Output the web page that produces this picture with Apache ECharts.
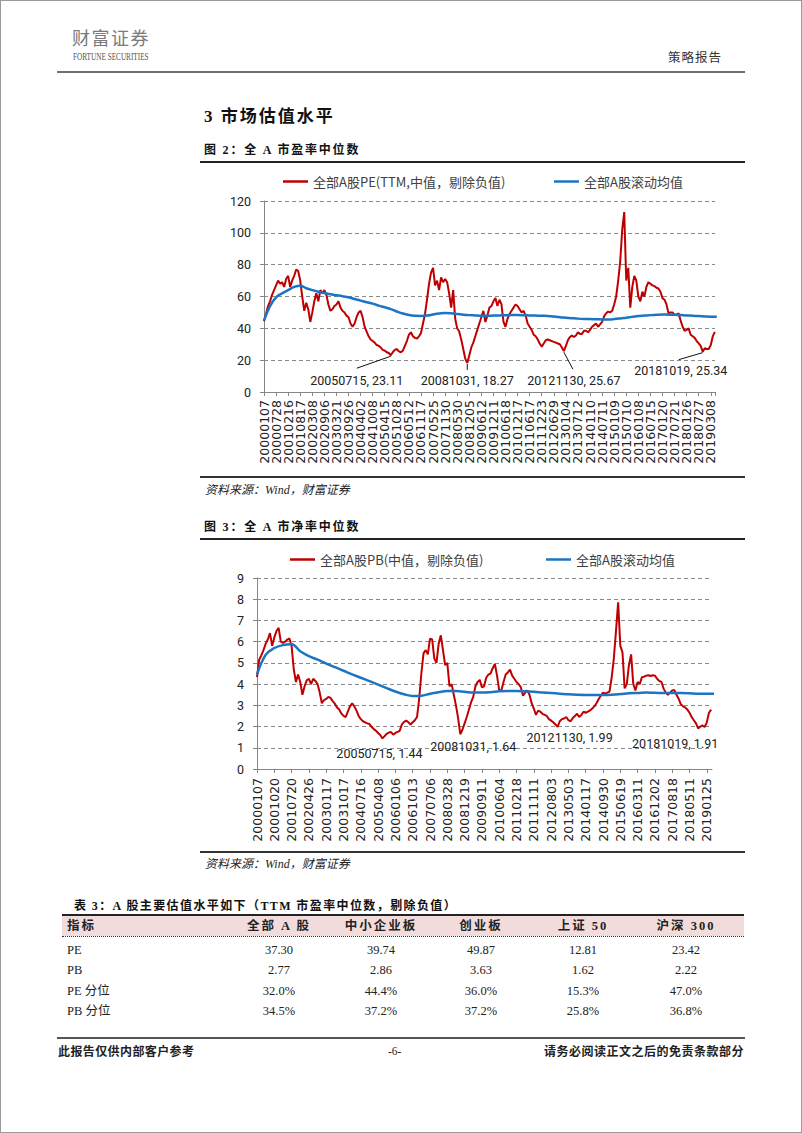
<!DOCTYPE html>
<html><head><meta charset="utf-8">
<script src="https://cdn.jsdelivr.net/npm/echarts@6/dist/echarts.min.js"></script>
<style>
html,body{margin:0;padding:0;background:#fff;}
#page{position:relative;width:802px;height:1133px;overflow:hidden;background:#fff;}
#frame{position:absolute;left:0;top:0;width:802px;height:1133px;box-sizing:border-box;border:1px solid #9a9a9a;z-index:3;pointer-events:none;}
#chart{position:absolute;left:0;top:0;width:802px;height:1133px;z-index:1;}
.t{position:absolute;white-space:nowrap;line-height:1;z-index:2;font-family:"Liberation Serif","Noto Sans CJK SC",serif;color:#222;}
.r{position:absolute;z-index:2;}
</style></head>
<body><div id="page">
<div id="chart"></div>
<div id="frame"></div>
<div id="html"></div>
</div>
<script>
// ---------------- data ----------------
const PE_NAME = '全部A股PE(TTM,中值，剔除负值)';
const PB_NAME = '全部A股PB(中值，剔除负值)';
const MEAN_NAME = '全部A股滚动均值';

const peTickLabels = ['20000107','20000728','20010216','20010817','20020308','20020906','20030321','20030926','20040402','20041008','20050415','20051028','20060512','20061117','20070525','20071130','20080530','20081205','20090612','20091211','20100618','20101217','20110617','20111223','20120629','20130104','20130712','20140110','20140711','20150109','20150710','20160108','20160715','20170120','20170721','20180126','20180727','20190308'];
const pbTickLabels = ['20000107','20001020','20010720','20020426','20030117','20031017','20040716','20050408','20060106','20061013','20070706','20080328','20081219','20090911','20100604','20110218','20111111','20120803','20130503','20140117','20140930','20150619','20160311','20161202','20170818','20180511','20190125'];

// samples per tick-label interval
const PE_PER_TICK = 6;
const PB_PER_TICK = 8;
const MEAN_PER_TICK = 2;

const pe = [
44.5,49,54,57,61,64, 67,70,68,69,66,71, 73,66,70,73,77,76, 70,60,51,56,52,44,
50,57,62,57,64,62, 64,61,55,51,52,54, 55,57,53,51,50,48, 47,43,41,43,47,50,
51,47,41,38,35,33, 32,31,29.5,29,28,26.5, 26,25,24.5,23.11,25,26.5, 27,25.5,25,26,29,32,
36,37.5,35,34,33.5,35, 37,43,49,58,68,75, 78,67,70,64,72,69, 71,69,62,53,64,46,
40,38,33,27,21,18.27, 23,28,31,35,39,43, 47,51,44,48,53,54, 57,59,54,58,55,44,
41,46,49,51,53,55, 54,52,50,51,48,43, 41,39,36,35,33,30.5, 28.5,30.5,32.5,33,32.5,32,
31.5,31,30.5,30,28,25.67, 29,32.5,34.5,35.5,34.5,35.5, 37.5,36.5,36.5,38.5,38.5,37.5, 39,41,42,43,41,42.5,
44,47.5,49.5,50.5,50,51, 55,60,70,82,102,113, 70,78,53,66,73,70, 60,57,63,60,66,69,
68,67,66.5,65.5,65,63, 59,58,55,49.5,50,50, 48.5,48.5,49.4,45,41,38.5, 39,40,36,35,34,32,
30.5,29,25.34,27.5,27,27, 29.5,35,37.8
];
const peMean = [
45,54,59.5,62,64,66,66.8,65.2,64,63, 62.2,61.4,60.8,60.2,59.5,58.4,57.4,56.4,55.5,54.3,
53.2,52.1,50.6,49.3,48.4,47.9,47.8,48,48.7,49.3, 49.7,49.5,49,48.6,48.3,48.1,47.9,47.9,48,48.1,
48.2,48.3,48.3,48.2,48.1,48,47.9,47.8,47.4,47, 46.7,46.4,46.1,45.9,45.8,45.7,45.6,45.6,45.8,46.2,
46.7,47.2,47.7,48,48.3,48.5,48.7,48.6,48.5,48.3, 48.1,47.9,47.7,47.5,47.3,47.2
];
const pb = [
4.33,5.15,5.35,5.6,5.9,6.1,6.4,5.8, 6.2,6.5,6.65,6.0,5.95,6.0,6.1,6.15,
5.8,4.7,4.1,4.45,4.1,3.5,3.9,4.18, 4.25,4.0,4.25,4.15,4.0,3.6,3.1,3.25,
3.3,3.4,3.35,3.2,3.08,2.9,2.8,2.62, 2.5,2.45,2.7,2.95,3.1,2.95,2.75,2.5,
2.35,2.25,2.2,2.15,2.12,1.99,1.88,1.8, 1.7,1.6,1.44,1.55,1.66,1.72,1.74,1.62,
1.7,1.75,1.8,2.1,2.22,2.28,2.2,2.1, 2.2,2.3,2.45,3.3,4.5,5.45,5.6,5.4,
6.14,6.1,5.2,5.0,5.9,6.3,5.6,4.9, 5.0,3.9,4.0,3.5,3.0,2.4,1.64,1.85,
2.15,2.45,2.8,3.15,3.4,3.9,4.1,4.2, 3.85,3.9,4.3,4.45,4.5,4.75,4.95,4.4,
3.7,3.7,4.1,4.45,4.55,4.68,4.4,4.25, 4.1,4.0,3.85,3.45,3.6,3.7,3.5,3.1,
2.85,2.55,2.75,2.7,2.6,2.55,2.5,2.35, 2.28,2.2,2.1,1.99,2.25,2.35,2.38,2.45,
2.3,2.25,2.4,2.5,2.6,2.45,2.55,2.7, 2.65,2.7,2.76,2.85,2.95,3.1,3.3,3.45,
3.6,3.55,3.6,3.65,4.3,5.2,6.5,7.85, 5.8,5.5,3.8,4.0,4.9,5.4,4.0,3.7,
4.1,4.0,4.33,4.35,4.4,4.42,4.38,4.42, 4.4,4.25,4.15,4.1,3.8,3.6,3.5,3.6,
3.7,3.72,3.5,3.3,3.05,2.95,2.9,2.8, 2.65,2.45,2.3,2.15,1.91,2.0,2.05,1.98,
2.2,2.65,2.8
];
const pbMean = [
4.45,5.38,5.7,5.84,5.88,5.55,5.32,5.15,4.97,4.8, 4.63,4.46,4.3,4.14,3.98,3.81,3.65,3.52,3.44,3.45,
3.55,3.62,3.67,3.67,3.64,3.6,3.6,3.62,3.66,3.67, 3.67,3.66,3.64,3.61,3.58,3.55,3.52,3.5,3.49,3.49,
3.49,3.5,3.53,3.57,3.58,3.6,3.59,3.58,3.58,3.58, 3.57,3.55,3.55,3.55
];

// annotated lows (sample index in the series, date, value)
const peNoteIndex = [63, 101, 149, 218];
const peNoteDates = ['20050715','20081031','20121130','20181019'];
const peNoteValues = [23.11, 18.27, 25.67, 25.34];
const pbNoteIndex = [58, 94, 139, 204];
const pbNoteDates = ['20050715','20081031','20121130','20181019'];
const pbNoteValues = [1.44, 1.64, 1.99, 1.91];

// table
const tableHeader = ['指标','全部 A 股','中小企业板','创业板','上证 50','沪深 300'];
const rowLabels = ['PE','PB','PE 分位','PB 分位'];
const rowPE = ['37.30','39.74','49.87','12.81','23.42'];
const rowPB = ['2.77','2.86','3.63','1.62','2.22'];
const rowPEPct = ['32.0%','44.4%','36.0%','15.3%','47.0%'];
const rowPBPct = ['34.5%','37.2%','37.2%','25.8%','36.8%'];

// ---------------- layout (page text) ----------------
const html = [];
function T(txt, x, y, size, extra){ html.push(`<div class="t" style="left:${x}px;top:${y}px;font-size:${size}px;${extra||''}">${txt}</div>`); }
function R(x, y, w, h, css){ html.push(`<div class="r" style="left:${x}px;top:${y}px;width:${w}px;height:${h}px;${css}"></div>`); }

T('财富证券', 72, 30, 18, 'color:#7a7a7a;letter-spacing:1.5px;font-family:\"Noto Sans CJK SC\";font-weight:300;');
T('FORTUNE SECURITIES', 73, 53, 9.5, 'color:#555;transform:scaleX(0.76);transform-origin:0 0;');
T('策略报告', 668, 52, 12.5, 'color:#333;letter-spacing:1px;font-family:\"Noto Sans CJK SC\";');
R(57, 71, 688, 2, 'background:#707070;');

T('3 市场估值水平', 204, 108, 17, 'font-weight:bold;letter-spacing:2px;color:#111;');
T('图 2：全 A 市盈率中位数', 204, 144, 12, 'font-weight:bold;letter-spacing:1.8px;color:#111;');
R(200, 161, 545, 1.5, 'background:#222;');
R(200, 476, 545, 1.5, 'background:#333;');
T('资料来源：Wind，财富证券', 205, 484, 12, 'font-style:italic;color:#222;');

T('图 3：全 A 市净率中位数', 204, 521, 12, 'font-weight:bold;letter-spacing:1.8px;color:#111;');
R(200, 538, 545, 1.5, 'background:#222;');
R(200, 851, 545, 1.5, 'background:#333;');
T('资料来源：Wind，财富证券', 205, 858, 12, 'font-style:italic;color:#222;');

T('表 3：A 股主要估值水平如下（TTM 市盈率中位数，剔除负值）', 74, 900, 12, 'font-weight:bold;letter-spacing:1.4px;color:#111;');
R(62, 914, 682, 2, 'background:#222;');
R(62, 916, 682, 20, 'background:#F2DCDB;');
R(62, 936, 682, 0, 'border-top:1.5px dotted #333;');
const colX = [279, 381, 481, 583, 686];
T(tableHeader[0], 67, 920, 12.5, 'font-weight:bold;letter-spacing:2px;');
for (let j = 0; j < 5; j++) T(tableHeader[j+1], colX[j], 920, 12.5, 'font-weight:bold;letter-spacing:2px;transform:translateX(-50%);');
const rows = [rowPE, rowPB, rowPEPct, rowPBPct];
const rowY = [944, 964, 985, 1005];
rows.forEach((row, i) => {
  T(rowLabels[i], 67, rowY[i], 12.5, '');
  row.forEach((v, j) => T(v, colX[j], rowY[i], 12.5, 'transform:translateX(-50%);'));
});

R(57, 1037, 688, 2, 'background:#555;');
T('此报告仅供内部客户参考', 58, 1046, 12, 'font-weight:bold;letter-spacing:0.4px;');
T('-6-', 388, 1046, 11.5, '');
T('请务必阅读正文之后的免责条款部分', 544, 1046, 12, 'font-weight:bold;letter-spacing:0.5px;');
document.getElementById('html').innerHTML = html.join('');

// ---------------- charts ----------------
const RED = '#C00000', BLUE = '#1B75C3';
const chart = echarts.init(document.getElementById('chart'), null, {renderer: 'svg', width: 802, height: 1133});

const PE_MAX = 37.35, PB_MAX = 26.3;
const G0 = {left: 264, top: 201, width: 451, height: 191};
const G1 = {left: 257, top: 578, width: 455, height: 191};
const xLabelStyle = {rotate: 90, fontFamily: 'DejaVu Sans', fontSize: 12.5, color: '#222'};

function xAxisFor(grid, max, labels, margin, showLabels) {
  return {
    type: 'value', gridIndex: grid, min: 0, max: max, interval: 1,
    axisLine: {show: true, lineStyle: {color: '#868686', width: 1}},
    axisTick: {show: true, length: 4, lineStyle: {color: '#868686'}},
    splitLine: {show: false},
    axisLabel: Object.assign({
      show: showLabels, margin: margin, showMinLabel: true, showMaxLabel: false,
      formatter: v => { const i = Math.round(v); return Math.abs(v - i) < 1e-6 ? (labels[i] || '') : ''; }
    }, xLabelStyle)
  };
}
function yAxisFor(grid, max, interval) {
  return {
    type: 'value', gridIndex: grid, min: 0, max: max, interval: interval,
    axisLine: {show: true, lineStyle: {color: '#868686', width: 1}},
    axisTick: {show: true, length: 4, lineStyle: {color: '#868686'}},
    axisLabel: {margin: 13, fontFamily: 'Roboto', fontSize: 12.5, color: '#222'},
    splitLine: {show: true, lineStyle: {type: [4, 3], color: '#8a8a8a', width: 1}}
  };
}
const legendCommon = {
  icon: 'rect', itemWidth: 25, itemHeight: 2.5, itemGap: 0, padding: 0, selectedMode: false,
  textStyle: {fontFamily: 'Noto Sans CJK SC', fontSize: 13, color: '#404040'}
};
function lineSeries(name, values, perTick, xi, color, width, smooth, z) {
  return {
    type: 'line', name: name, xAxisIndex: xi, yAxisIndex: xi,
    data: values.map((v, i) => [i / perTick, v]),
    showSymbol: false, symbol: 'none', smooth: smooth, z: z,
    lineStyle: {color: color, width: width}, itemStyle: {color: color},
    animation: false
  };
}

// label grid for chart 1: spans tick 0 .. last tick, same scale as grid 0
const G0labels = {left: G0.left, top: G0.top, height: G0.height, width: G0.width * (peTickLabels.length - 1) / PE_MAX};

chart.setOption({
  animation: false,
  grid: [G0, G1, G0labels],
  xAxis: [
    xAxisFor(0, PE_MAX, peTickLabels, 8, false),
    xAxisFor(1, PB_MAX, pbTickLabels, 9, true),
    {type: 'category', gridIndex: 2, data: peTickLabels, boundaryGap: false,
     axisLine: {show: false}, axisTick: {show: false}, splitLine: {show: false},
     axisLabel: Object.assign({interval: 0, margin: 8}, xLabelStyle)}
  ],
  yAxis: [yAxisFor(0, 120, 20), yAxisFor(1, 9, 1), {type: 'value', gridIndex: 2, show: false, min: 0, max: 120}],
  legend: [
    Object.assign({data: [PE_NAME], left: 283, top: 175}, legendCommon),
    Object.assign({data: [MEAN_NAME], left: 554, top: 175}, legendCommon),
    Object.assign({data: [PB_NAME], left: 290, top: 553}, legendCommon),
    Object.assign({data: [MEAN_NAME], left: 546, top: 553}, legendCommon)
  ],
  series: [
    lineSeries(PE_NAME, pe, PE_PER_TICK, 0, RED, 2, false, 2),
    lineSeries(MEAN_NAME, peMean, MEAN_PER_TICK, 0, BLUE, 2.5, 0.4, 3),
    lineSeries(PB_NAME, pb, PB_PER_TICK, 1, RED, 2, false, 2),
    lineSeries(MEAN_NAME, pbMean, MEAN_PER_TICK, 1, BLUE, 2.5, 0.4, 3)
  ]
});

// annotation placement (pixel offsets from the annotated point: text dx,dy, leader end dx,dy)
const peNoteOffsets = [[-34, 25, -34, 13], [0, 18, 0, 7], [10, 29, 9, 18], [-22, 19, -24, 8]];
const pbNoteOffsets = [[-3, 15, 0, 0], [13, 12.5, 0, 0], [12, 11, 0, 0], [-23, 15, 0, 0]];
function notes(seriesIndex, perTick, idx, dates, vals, offs, withLine) {
  const els = [];
  idx.forEach((k, j) => {
    const p = chart.convertToPixel({seriesIndex: seriesIndex}, [k / perTick, vals[j]]);
    const o = offs[j];
    if (withLine) els.push({type: 'line', z: 100, shape: {x1: p[0], y1: p[1] + 1, x2: p[0] + o[2], y2: p[1] + o[3]}, style: {stroke: '#111', lineWidth: 1}});
    els.push({type: 'text', z: 100, x: p[0] + o[0], y: p[1] + o[1],
      style: {text: dates[j] + ', ' + vals[j].toFixed(2), fill: '#222', fontFamily: 'Roboto', fontSize: 12.5, align: 'center', verticalAlign: 'middle'}});
  });
  return els;
}
chart.setOption({graphic: [].concat(
  notes(0, PE_PER_TICK, peNoteIndex, peNoteDates, peNoteValues, peNoteOffsets, true),
  notes(2, PB_PER_TICK, pbNoteIndex, pbNoteDates, pbNoteValues, pbNoteOffsets, false)
)});
</script>
</body></html>
